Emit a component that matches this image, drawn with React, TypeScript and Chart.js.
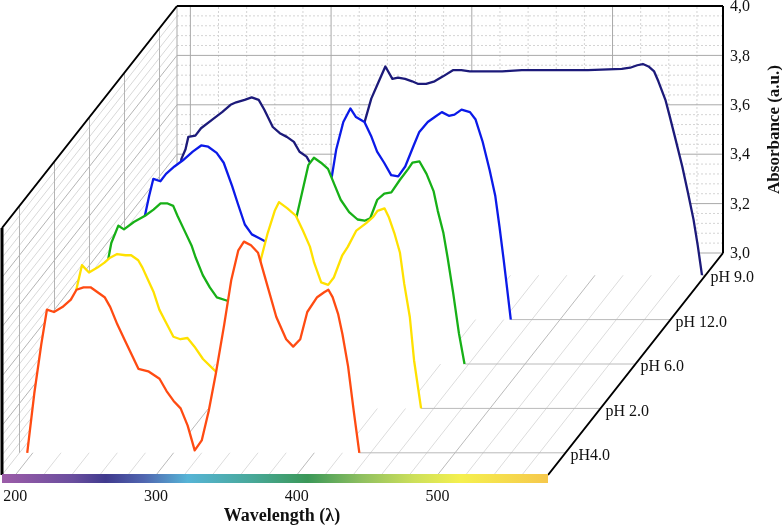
import React, { useEffect, useRef } from "react";
import { Chart, registerables } from "chart.js";

Chart.register(...registerables);

// axis ticks and sample names (front to back)
const wavelengthTicks = [200, 300, 400, 500];
const absorbanceTicks = [3.0, 3.2, 3.4, 3.6, 3.8, 4.0];
const samples = ["pH4.0", "pH 2.0", "pH 6.0", "pH 12.0", "pH 9.0"];
const sampleColors = ["#ff4b12", "#ffe100", "#17b017", "#0b1ae8", "#1c1a7a"];

// pH 4.0
const ph4W = [196, 201, 206, 210, 215, 221, 227, 231, 236, 241, 246, 251, 255, 260, 265, 270, 275, 282, 290, 295, 300, 305, 310, 315, 320, 325, 330, 336, 341, 346, 350, 355, 360, 362, 367, 373, 380, 385, 390, 395, 402, 407, 410, 413, 417, 420, 424, 428, 432];
const ph4A = [3.0, 3.24, 3.44, 3.58, 3.57, 3.59, 3.62, 3.66, 3.67, 3.67, 3.65, 3.63, 3.59, 3.52, 3.46, 3.40, 3.34, 3.33, 3.30, 3.25, 3.21, 3.18, 3.11, 3.01, 3.05, 3.17, 3.32, 3.52, 3.70, 3.82, 3.855, 3.84, 3.81, 3.77, 3.67, 3.55, 3.46, 3.43, 3.46, 3.57, 3.63, 3.65, 3.66, 3.63, 3.56, 3.48, 3.35, 3.17, 3.0];

// pH 2.0
const ph2W = [198, 201, 206, 210, 215, 221, 226, 230, 235, 241, 245, 250, 253, 257, 261, 265, 270, 275, 280, 285, 290, 296, 305, 310, 315, 320, 325, 330, 335, 337, 342, 347, 350, 356, 362, 367, 372, 375, 380, 385, 389, 395, 399, 405, 412, 417, 420, 425, 428, 432, 436, 439, 443, 446, 451];
const ph2A = [3.0, 3.25, 3.48, 3.58, 3.55, 3.57, 3.59, 3.61, 3.625, 3.62, 3.62, 3.60, 3.57, 3.52, 3.47, 3.40, 3.345, 3.29, 3.28, 3.285, 3.25, 3.20, 3.15, 3.08, 3.03, 3.10, 3.25, 3.42, 3.55, 3.60, 3.71, 3.80, 3.835, 3.81, 3.78, 3.72, 3.655, 3.59, 3.51, 3.50, 3.53, 3.62, 3.655, 3.72, 3.75, 3.775, 3.80, 3.81, 3.775, 3.71, 3.63, 3.505, 3.37, 3.195, 3.0];

// pH 6.0
const ph6W = [199, 202, 204, 206, 211, 215, 222, 230, 236, 241, 246, 250, 253, 258, 263, 266, 271, 276, 281, 289, 295, 300, 305, 310, 315, 320, 325, 330, 335, 337, 346, 350, 355, 360, 365, 369, 375, 381, 386, 390, 395, 400, 405, 411, 417, 420, 425, 430, 435, 438, 442, 445, 449, 453, 457];
const ph6A = [3.0, 3.30, 3.43, 3.49, 3.56, 3.545, 3.575, 3.60, 3.625, 3.65, 3.65, 3.64, 3.60, 3.54, 3.48, 3.43, 3.36, 3.31, 3.27, 3.255, 3.22, 3.17, 3.10, 3.05, 3.03, 3.08, 3.22, 3.38, 3.52, 3.58, 3.805, 3.835, 3.815, 3.79, 3.72, 3.665, 3.615, 3.585, 3.58, 3.59, 3.665, 3.69, 3.695, 3.745, 3.79, 3.815, 3.82, 3.77, 3.70, 3.62, 3.53, 3.43, 3.285, 3.125, 3.0];

// pH 12.0
const ph12W = [200, 203, 205, 208, 211, 216, 220, 226, 232, 239, 245, 250, 256, 261, 267, 271, 276, 281, 286, 291, 295, 300, 305, 310, 315, 320, 325, 330, 335, 338, 341, 346, 351, 355, 361, 366, 370, 375, 380, 385, 390, 396, 400, 406, 411, 416, 421, 425, 430, 436, 440, 445, 450, 454, 457, 460, 462, 465];
const ph12A = [3.0, 3.25, 3.42, 3.50, 3.57, 3.56, 3.59, 3.62, 3.645, 3.68, 3.705, 3.70, 3.675, 3.635, 3.54, 3.47, 3.385, 3.345, 3.33, 3.315, 3.29, 3.24, 3.15, 3.08, 3.05, 3.10, 3.25, 3.40, 3.52, 3.585, 3.69, 3.80, 3.855, 3.82, 3.80, 3.74, 3.68, 3.635, 3.585, 3.58, 3.62, 3.705, 3.76, 3.80, 3.82, 3.84, 3.825, 3.83, 3.85, 3.84, 3.81, 3.72, 3.605, 3.50, 3.375, 3.24, 3.145, 3.0];

// pH 9.0
const ph9W = [201, 204, 206, 209, 211, 216, 220, 228, 235, 241, 245, 251, 256, 261, 265, 271, 276, 281, 286, 290, 295, 298, 305, 310, 315, 320, 325, 330, 336, 338, 341, 346, 351, 356, 360, 365, 370, 374, 380, 386, 392, 399, 405, 411, 422, 434, 448, 472, 495, 519, 525, 530, 534, 538, 542, 545, 550, 553, 557, 562, 566, 570, 573, 576];
const ph9A = [3.0, 3.25, 3.47, 3.51, 3.56, 3.565, 3.595, 3.63, 3.66, 3.69, 3.70, 3.71, 3.72, 3.71, 3.67, 3.60, 3.575, 3.56, 3.54, 3.50, 3.48, 3.45, 3.38, 3.28, 3.20, 3.18, 3.30, 3.45, 3.615, 3.655, 3.715, 3.78, 3.845, 3.795, 3.80, 3.795, 3.785, 3.775, 3.775, 3.785, 3.805, 3.83, 3.83, 3.825, 3.825, 3.825, 3.83, 3.83, 3.83, 3.835, 3.84, 3.85, 3.855, 3.845, 3.825, 3.785, 3.71, 3.645, 3.555, 3.44, 3.335, 3.225, 3.12, 3.0];

const seriesW = [ph4W, ph2W, ph6W, ph12W, ph9W];
const seriesA = [ph4A, ph2A, ph6A, ph12A, ph9A];

const W_MIN = 190.5;
const W_MAX = 578.5;
const A_MIN = 3.0;
const A_MAX = 4.0;

const CANVAS_W = 782;
const CANVAS_H = 526;

// oblique box: front face + depth vector, in canvas pixels
const BOX = { left: 2, bottom: 475, width: 546, height: 247, dx: 175, dy: -222 };

const spectrum: [number, string][] = [
  [0, "#9c5ca8"], [0.13, "#6a4e9e"], [0.19, "#403a8e"], [0.26, "#5066b0"],
  [0.34, "#56b4d6"], [0.46, "#48a898"], [0.56, "#3b9858"], [0.66, "#90c060"],
  [0.755, "#cde05a"], [0.84, "#f5f04e"], [1, "#f6c84c"],
];

type P = { x: number; y: number | null };

function project(w: number, a: number, d: number): P {
  return {
    x: BOX.left + ((w - W_MIN) / (W_MAX - W_MIN)) * BOX.width + BOX.dx * d,
    y: BOX.bottom - ((a - A_MIN) / (A_MAX - A_MIN)) * BOX.height + BOX.dy * d,
  };
}

const depthOf = (i: number) => (i + 0.5) / samples.length;

// list of segments -> one dataset with gaps
function segments(segs: [P, P][]) {
  const out: P[] = [];
  segs.forEach(([p, q]) => out.push(p, q, { x: q.x, y: null }));
  return out;
}

const minorW: number[] = [];
for (let w = 200; w <= 560; w += 20) if (w % 100 !== 0) minorW.push(w);
const majorA = absorbanceTicks.filter((a) => a > A_MIN && a < A_MAX);
const minorA: number[] = [];
for (let k = 1; k < 25; k++) if (k % 5 !== 0) minorA.push(A_MIN + k * 0.04);

function gridLine(data: P[], color: string, order: number, dash: number[] = []) {
  return {
    data,
    borderColor: color,
    borderWidth: 1,
    borderDash: dash,
    pointRadius: 0,
    fill: false,
    order,
  };
}

function buildDatasets() {
  const backMajor = segments([
    ...wavelengthTicks.map((w) => [project(w, A_MIN, 1), project(w, A_MAX, 1)] as [P, P]),
    ...[A_MIN, ...majorA].map((a) => [project(W_MIN, a, 1), project(W_MAX, a, 1)] as [P, P]),
    [project(W_MIN, A_MIN, 1), project(W_MIN, A_MAX, 1)],
  ]);
  const backMinor = segments([
    ...minorW.map((w) => [project(w, A_MIN, 1), project(w, A_MAX, 1)] as [P, P]),
    ...minorA.map((a) => [project(W_MIN, a, 1), project(W_MAX, a, 1)] as [P, P]),
  ]);
  const leftMajor = segments([
    ...majorA.map((a) => [project(W_MIN, a, 0), project(W_MIN, a, 1)] as [P, P]),
    ...samples.map((_, i) => [project(W_MIN, A_MIN, depthOf(i)), project(W_MIN, A_MAX, depthOf(i))] as [P, P]),
  ]);
  const leftMinor = segments([
    ...minorA.map((a) => [project(W_MIN, a, 0), project(W_MIN, a, 1)] as [P, P]),
    [project(W_MIN, A_MIN, 0), project(W_MIN, A_MIN, 1)],
  ]);
  const floorMajor = segments([
    ...wavelengthTicks.map((w) => [project(w, A_MIN, 0), project(w, A_MIN, 1)] as [P, P]),
    ...samples.map((_, i) => {
      const ws = seriesW[i];
      return [project(ws[ws.length - 1], A_MIN, depthOf(i)), project(W_MAX, A_MIN, depthOf(i))] as [P, P];
    }),
  ]);
  const floorMinor = segments(
    minorW.map((w) => [project(w, A_MIN, 0), project(w, A_MIN, 1)] as [P, P])
  );

  const series = samples.map((name, i) => {
    const d = depthOf(i);
    const base = project(W_MIN, A_MIN, d).y as number;
    return {
      label: name,
      data: seriesW[i].map((w, j) => project(w, seriesA[i][j], d)),
      borderColor: sampleColors[i],
      borderWidth: 2.3,
      borderJoinStyle: "round" as const,
      backgroundColor: "#ffffff",
      fill: { value: base },
      pointRadius: 0,
      order: 1 + i,
    };
  });

  const edges = {
    data: segments([
      [project(W_MIN, A_MAX, 0), project(W_MIN, A_MAX, 1)],
      [project(W_MIN, A_MAX, 1), project(W_MAX, A_MAX, 1)],
      [project(W_MAX, A_MAX, 1), project(W_MAX, A_MIN, 1)],
      [project(W_MAX, A_MIN, 0), project(W_MAX, A_MIN, 1)],
    ]),
    borderColor: "#000000",
    borderWidth: 2,
    pointRadius: 0,
    fill: false,
    order: 0,
  };
  const frontEdge = {
    data: [project(W_MIN, A_MIN, 0), project(W_MIN, A_MAX, 0)],
    borderColor: "#000000",
    borderWidth: 3,
    pointRadius: 0,
    fill: false,
    order: 0,
  };

  return [
    edges,
    frontEdge,
    ...series,
    gridLine(backMajor, "#a9a9a9", 20),
    gridLine(backMinor, "#d4d4d4", 21, [2, 2]),
    gridLine(leftMajor, "#b4b4b4", 22),
    gridLine(leftMinor, "#d8d8d8", 23),
    gridLine(floorMajor, "#bababa", 24),
    gridLine(floorMinor, "#dcdcdc", 25),
  ];
}

const decorations = {
  id: "decorations",
  afterDatasetsDraw(chart: any) {
    const { ctx } = chart;
    const sx = chart.scales.x;
    const sy = chart.scales.y;
    const px = (p: P) => ({ x: sx.getPixelForValue(p.x), y: sy.getPixelForValue(p.y) });

    ctx.save();
    // spectrum bar along the front edge
    const l = px(project(W_MIN, A_MIN, 0));
    const r = px(project(W_MAX, A_MIN, 0));
    const grad = ctx.createLinearGradient(l.x, 0, r.x, 0);
    spectrum.forEach(([o, c]) => grad.addColorStop(o, c));
    ctx.fillStyle = grad;
    ctx.fillRect(l.x, l.y - 1, r.x - l.x, 9);

    ctx.fillStyle = "#111111";
    ctx.font = "16px 'Liberation Serif'";
    ctx.textBaseline = "middle";

    ctx.textAlign = "center";
    wavelengthTicks.forEach((w) => {
      const p = px(project(w, A_MIN, 0));
      ctx.fillText(String(w), p.x, p.y + 22);
    });

    ctx.textAlign = "left";
    absorbanceTicks.forEach((a) => {
      const p = px(project(W_MAX, a, 1));
      ctx.fillText(a.toFixed(1).replace(".", ","), p.x + 7, p.y + 1);
    });

    samples.forEach((name, i) => {
      const p = px(project(W_MAX, A_MIN, depthOf(i)));
      ctx.fillText(name, p.x + 5, p.y + 3);
    });

    ctx.font = "bold 18px 'Liberation Serif'";
    ctx.textAlign = "center";
    const mid = px(project((W_MIN + W_MAX) / 2, A_MIN, 0));
    ctx.fillText("Wavelength (\u03bb)", mid.x + 7, mid.y + 41);

    const top = px(project(W_MAX, A_MAX, 1));
    const bot = px(project(W_MAX, A_MIN, 1));
    ctx.font = "bold 17px 'Liberation Serif'";
    ctx.translate(top.x + 52, (top.y + bot.y) / 2);
    ctx.rotate(-Math.PI / 2);
    ctx.fillText("Absorbance (a.u.)", 0, 0);
    ctx.restore();
  },
};

export default function App() {
  const canvasRef = useRef<HTMLCanvasElement | null>(null);

  useEffect(() => {
    document.body.style.margin = "0";
    const chart = new Chart(canvasRef.current as HTMLCanvasElement, {
      type: "line",
      data: { datasets: buildDatasets() as any },
      options: {
        responsive: false,
        animation: false,
        events: [],
        layout: { padding: 0 },
        plugins: {
          legend: { display: false },
          tooltip: { enabled: false },
        },
        scales: {
          x: { type: "linear", min: 0, max: CANVAS_W, display: false },
          y: { type: "linear", min: 0, max: CANVAS_H, reverse: true, display: false },
        },
        elements: { line: { tension: 0 } },
      },
      plugins: [decorations],
    });
    return () => chart.destroy();
  }, []);

  return (
    <div style={{ width: CANVAS_W, height: CANVAS_H }}>
      <canvas ref={canvasRef} width={CANVAS_W} height={CANVAS_H} />
    </div>
  );
}
